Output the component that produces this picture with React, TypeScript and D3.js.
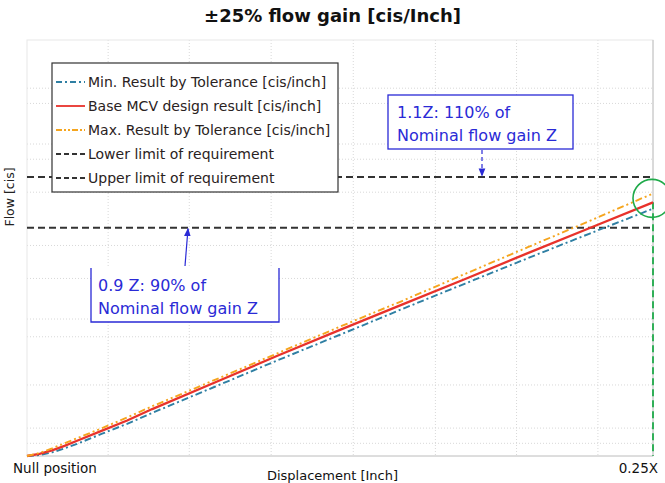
import React from "react";
import * as d3 from "d3";

// displacement [inch] and flow in units of nominal gain Z
const displacement = [0, 0.005, 0.01, 0.015, 0.02, 0.03, 0.04, 0.05, 0.075, 0.1, 0.125, 0.15, 0.175, 0.2, 0.225, 0.25];
const baseFlow = [0, 0.008, 0.022, 0.04, 0.06, 0.1, 0.14, 0.185, 0.29, 0.395, 0.497, 0.598, 0.698, 0.8, 0.9, 1.0];
const maxFlow = [0, 0.012, 0.03, 0.05, 0.07, 0.11, 0.152, 0.196, 0.3, 0.405, 0.51, 0.612, 0.718, 0.823, 0.928, 1.035];
const minFlow = [0, 0.004, 0.014, 0.03, 0.048, 0.088, 0.127, 0.17, 0.273, 0.377, 0.478, 0.58, 0.68, 0.78, 0.878, 0.975];
const lowerLimit = 0.9;
const upperLimit = 1.1;

const gridX = [0.0324, 0.0648, 0.0975, 0.1303, 0.1631, 0.1955, 0.228];
const gridY = [0.05, 0.11, 0.28, 0.47, 0.54, 0.7, 0.83, 1.04, 1.17, 1.23, 1.39, 1.45];

const xTickLabels = ["Null position", "0.25X"];
const legendLabels = [
  "Min. Result by Tolerance [cis/inch]",
  "Base MCV design result [cis/inch]",
  "Max. Result by Tolerance [cis/inch]",
  "Lower limit of requirement",
  "Upper limit of requirement",
];

const W = 665;
const H = 483;
const margin = { top: 40, right: 12, bottom: 27, left: 27 };
const FONT = "'DejaVu Sans', Verdana, sans-serif";

const blue = "#2f7fa3";
const red = "#e8322b";
const orange = "#f5a51e";
const annot = "#2a2ad6";

export default function App() {
  const x = d3.scaleLinear().domain([0, 0.25]).range([margin.left, W - margin.right]);
  const y = d3.scaleLinear().domain([0, 1.64]).range([H - margin.bottom, margin.top]);
  const [x0, x1] = x.range();
  const [yb, yt] = y.range();

  const line = d3
    .line<number>()
    .x((_, i) => x(displacement[i]))
    .y((d) => y(d));

  const series = [
    { values: minFlow, color: blue, dash: "7,3,2,3", width: 1.9 },
    { values: baseFlow, color: red, dash: "", width: 2.3 },
    { values: maxFlow, color: orange, dash: "7,3,2,3,2,3", width: 1.9 },
  ];
  const legendStyles = [
    { color: blue, dash: "6,3,2,3", width: 1.8 },
    { color: red, dash: "", width: 1.8 },
    { color: orange, dash: "6,2,2,2,2,2", width: 1.8 },
    { color: "#333", dash: "5,3", width: 1.8 },
    { color: "#333", dash: "5,3", width: 1.8 },
  ];

  const yUp = y(upperLimit);
  const yLo = y(lowerLimit);
  const endX = x(0.25);
  const endY = y(baseFlow[baseFlow.length - 1]);

  return (
    <>
      <style>{`body{margin:0}`}</style>
      <svg width={W} height={H} style={{ display: "block", background: "#fff" }}>
        <defs>
          <marker id="arr" viewBox="0 0 10 10" refX="9" refY="5" markerWidth="7" markerHeight="7" orient="auto-start-reverse">
            <path d="M0,1 L10,5 L0,9 z" fill={annot} />
          </marker>
        </defs>

        {/* title */}
        <text x={W / 2} y={22} textAnchor="middle" fontFamily={FONT} fontSize={18} fontWeight="bold" fill="#111">
          ±25% flow gain [cis/Inch]
        </text>

        {/* grid */}
        <g stroke="#d8d8d8" strokeWidth={1} strokeDasharray="1,2">
          {gridX.map((g) => (
            <line key={"gx" + g} x1={x(g)} x2={x(g)} y1={yt} y2={yb} />
          ))}
          {gridY.map((g) => (
            <line key={"gy" + g} x1={x0} x2={x1} y1={y(g)} y2={y(g)} />
          ))}
        </g>
        <rect x={x0} y={yt} width={x1 - x0} height={yb - yt} fill="none" stroke="#e8e8e8" />
        <line x1={x0} x2={x1} y1={yb} y2={yb} stroke="#c8c8c8" strokeWidth={1.2} />
        <line x1={x1} x2={x1} y1={yt} y2={yb} stroke="#c8c8c8" strokeWidth={1.2} />

        {/* requirement limits */}
        <line x1={x0} x2={x1} y1={yUp} y2={yUp} stroke="#333" strokeWidth={2} strokeDasharray="7,4" />
        <line x1={x0} x2={x1} y1={yLo} y2={yLo} stroke="#333" strokeWidth={2} strokeDasharray="7,4" />

        {/* green end marker */}
        <line x1={endX} x2={endX} y1={endY} y2={yb} stroke="#1faa4a" strokeWidth={1.8} strokeDasharray="7,4" />

        {/* curves */}
        {series.map((s, i) => (
          <path key={i} d={line(s.values) || ""} fill="none" stroke={s.color} strokeWidth={s.width} strokeDasharray={s.dash} />
        ))}

        <circle cx={endX - 1} cy={endY - 4} r={19} fill="none" stroke="#1faa4a" strokeWidth={1.6} />

        {/* legend */}
        <g transform="translate(52,63)">
          <rect width={286} height={129} fill="#fff" stroke="#333" strokeWidth={1.2} />
          {legendLabels.map((lab, i) => (
            <g key={lab} transform={`translate(0,${19 + i * 24})`}>
              <line x1={4} x2={33} y1={0} y2={0} stroke={legendStyles[i].color} strokeWidth={legendStyles[i].width} strokeDasharray={legendStyles[i].dash} />
              <text x={36} y={5} fontFamily={FONT} fontSize={14} fill="#2a2222">
                {lab}
              </text>
            </g>
          ))}
        </g>

        {/* annotation 1.1Z */}
        <g>
          <rect x={388} y={95} width={185} height={54} fill="#fff" stroke={annot} strokeWidth={1.3} />
          <text x={397} y={118} fontFamily={FONT} fontSize={16} fill={annot}>1.1Z: 110% of</text>
          <text x={397} y={141} fontFamily={FONT} fontSize={16} fill={annot}>Nominal flow gain Z</text>
          <line x1={482} x2={482} y1={150} y2={yUp - 1} stroke={annot} strokeWidth={1.2} strokeDasharray="4,3" markerEnd="url(#arr)" />
        </g>

        {/* annotation 0.9Z */}
        <g>
          <path d="M91,268 L91,322 L279,322 L279,268" fill="#fff" stroke={annot} strokeWidth={1.3} />
          <text x={98} y={291} fontFamily={FONT} fontSize={16} fill={annot}>0.9 Z: 90% of</text>
          <text x={98} y={314} fontFamily={FONT} fontSize={16} fill={annot}>Nominal flow gain Z</text>
          <line x1={185} x2={188} y1={266} y2={yLo + 1} stroke={annot} strokeWidth={1.2} markerEnd="url(#arr)" />
        </g>

        {/* axis labels */}
        <text x={x(0) - 14} y={473} fontFamily={FONT} fontSize={13.5} fill="#111">
          {xTickLabels[0]}
        </text>
        <text x={x(0.25) + 5} y={473} textAnchor="end" fontFamily={FONT} fontSize={13.5} fill="#111">
          {xTickLabels[1]}
        </text>
        <text x={W / 2} y={480} textAnchor="middle" fontFamily={FONT} fontSize={13} fill="#111">
          Displacement [Inch]
        </text>
        <text transform={`translate(14,197) rotate(-90)`} textAnchor="middle" fontFamily={FONT} fontSize={12.5} fill="#222">
          Flow [cis]
        </text>
      </svg>
    </>
  );
}
